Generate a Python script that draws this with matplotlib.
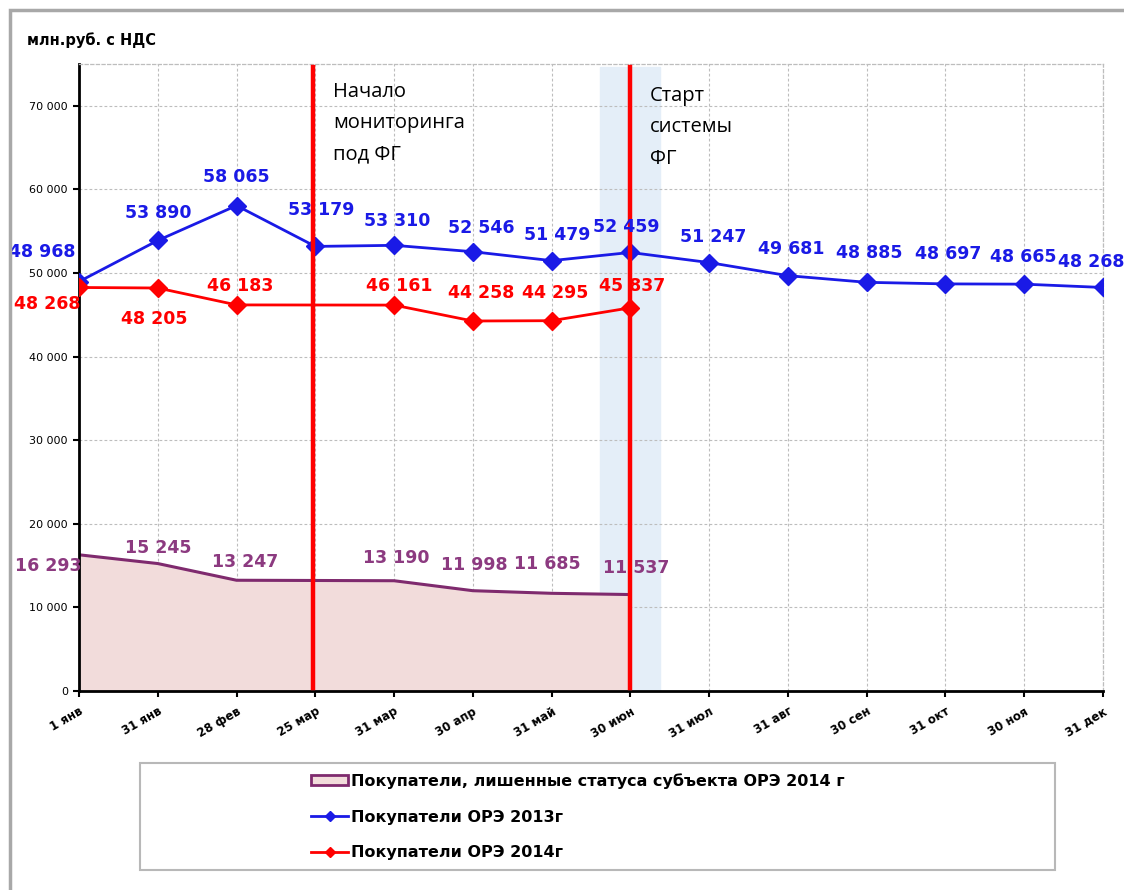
import matplotlib
matplotlib.use("Agg")
import matplotlib.pyplot as plt
from matplotlib.patches import Rectangle, Patch
from matplotlib.lines import Line2D
import matplotlib.transforms as mtrans
import numpy as np

# dates on x axis (categorical)
dates = ["1 янв", "31 янв", "28 фев", "25 мар", "31 мар", "30 апр", "31 май",
         "30 июн", "31 июл", "31 авг", "30 сен", "31 окт", "30 ноя", "31 дек"]

# values, mln rub with VAT
ore_2013 = [48968, 53890, 58065, 53179, 53310, 52546, 51479,
            52459, 51247, 49681, 48885, 48697, 48665, 48268]
ore_2014 = [48268, 48205, 46183, 46172, 46161, 44258, 44295, 45837]
lost_2014 = [16293, 15245, 13247, 13220, 13190, 11998, 11685, 11537]

# which points get a data label / marker (25 мар hidden under the red line)
labels_2014 = [True, True, True, False, True, True, True, True]
labels_lost = [True, True, True, False, True, True, True, True]

yticks = [0, 10000, 20000, 30000, 40000, 50000, 60000, 70000]

BLUE = "#1a1ae6"
RED = "#ff0000"
PURPLE = "#7f2a6e"
PINK = "#f2dcdb"

def fmt(v):
    return f"{v:,}".replace(",", " ")

fig = plt.figure(figsize=(11.24, 8.9), dpi=100)
ax = fig.add_axes([79 / 1124, 1 - 691 / 890, (1103 - 79) / 1124, (691 - 64) / 890])

x13 = np.arange(len(ore_2013))
x14 = np.arange(len(ore_2014))

# band around the FG start
ax.axvspan(6.62, 7.38, ymin=0, ymax=0.995, color="#e4eef8", zorder=0)

ax.fill_between(x14, lost_2014, 0, color=PINK, zorder=1)
ax.plot(x14, lost_2014, color=PURPLE, lw=2.2, zorder=2)
ax.plot(x13, ore_2013, color=BLUE, lw=2, marker="D", ms=9.5, zorder=3)
ax.plot(x14, ore_2014, color=RED, lw=2, marker="D", ms=9.5, zorder=3,
        markevery=[i for i, f in enumerate(labels_2014) if f])

# red vertical markers
ax.axvline(2.97, ymin=0.005, ymax=0.995, color=RED, lw=3.2, zorder=5)
ax.axvline(7.0, ymin=0.005, ymax=0.995, color=RED, lw=3.2, zorder=5)

ax.set_xlim(0, 13)
ax.set_ylim(0, 75000)
ax.set_yticks(yticks)
ax.set_yticklabels([fmt(v) for v in yticks], fontsize=8, family="DejaVu Sans")
ax.set_xticks(x13)
ax.set_xticklabels(dates, rotation=30, ha="right", rotation_mode="anchor",
                   fontsize=8.5, fontweight="bold", family="DejaVu Sans")
shift = mtrans.offset_copy(ax.get_xticklabels()[0].get_transform(), fig=fig,
                           x=-6, y=-4, units="dots")
for t in ax.get_xticklabels():
    t.set_transform(shift)
ax.tick_params(axis="x", length=4, width=1.5, pad=6)
ax.tick_params(axis="y", length=4, width=1.5, pad=4)

ax.grid(True, color="#bdbdbd", ls=(0, (2.5, 2)), lw=0.8)
ax.set_axisbelow(True)
for s in ["top", "right"]:
    ax.spines[s].set_color("#bdbdbd")
    ax.spines[s].set_linestyle((0, (2.5, 2)))
    ax.spines[s].set_linewidth(0.9)
for s in ["left", "bottom"]:
    ax.spines[s].set_color("black")
    ax.spines[s].set_linewidth(2)

lab = dict(textcoords="offset pixels", ha="center", va="center",
           fontsize=12.5, fontweight="bold", family="DejaVu Sans", zorder=6)

off13 = [(-37, 30), (0, 27), (0, 29), (6, 36), (3, 24), (8, 24), (6, 26),
         (-4, 25), (4, 26), (3, 27), (3, 29), (3, 30), (-1, 27), (-12, 25)]
for i, v in enumerate(ore_2013):
    ax.annotate(fmt(v), (x13[i], v), xytext=off13[i], color=BLUE, **lab)

off14 = [(-32, -17), (-4, -31), (4, 19), (0, 0), (5, 19), (8, 28), (4, 28), (2, 22)]
for i, v in enumerate(ore_2014):
    if labels_2014[i]:
        ax.annotate(fmt(v), (x14[i], v), xytext=off14[i], color=RED, **lab)

offl = [(-31, -11), (0, 16), (9, 18), (0, 0), (2, 23), (1, 26), (-4, 29), (6, 27)]
for i, v in enumerate(lost_2014):
    if labels_lost[i]:
        ax.annotate(fmt(v), (x14[i], v), xytext=offl[i], color="#8c3a80", **lab)

# annotations
fig.text(333 / 1124, 1 - 82 / 890, "Начало\nмониторинга\nпод ФГ", fontsize=14.5,
         family="Open Sans", va="top", ha="left", linespacing=1.75)
fig.text(650 / 1124, 1 - 86 / 890, "Старт\nсистемы\nФГ", fontsize=14.5,
         family="Open Sans", va="top", ha="left", linespacing=1.75)

fig.text(27 / 1124, 1 - 40 / 890, "млн.руб. с НДС", fontsize=10.5, fontweight="bold",
         family="DejaVu Sans", va="center", ha="left")

# outer frame and legend box
fig.patches.append(Rectangle((10 / 1124, -0.1), 1.2, 1 - 10 / 890 + 0.1,
                             transform=fig.transFigure, fill=False,
                             ec="#a8a8a8", lw=2.5))
fig.patches.append(Rectangle((140 / 1124, 1 - 870 / 890), (1055 - 140) / 1124,
                             (870 - 763) / 890, transform=fig.transFigure,
                             fill=False, ec="#b8b8b8", lw=1.5))

handles = [
    Patch(facecolor=PINK, edgecolor=PURPLE, lw=2),
    Line2D([], [], color=BLUE, lw=2, marker="D", ms=5),
    Line2D([], [], color=RED, lw=2, marker="D", ms=5),
]
names = ["Покупатели, лишенные статуса субъекта ОРЭ 2014 г",
         "Покупатели ОРЭ 2013г", "Покупатели ОРЭ 2014г"]
fig.legend(handles, names, loc="upper left",
           bbox_to_anchor=(300 / 1124, 1 - 762 / 890), frameon=False,
           prop={"family": "DejaVu Sans", "weight": "bold", "size": 11.5},
           handlelength=2.3, handleheight=0.55, handletextpad=0.2,
           labelspacing=1.3, borderpad=0.2)

fig.savefig("out.png", dpi=100)
